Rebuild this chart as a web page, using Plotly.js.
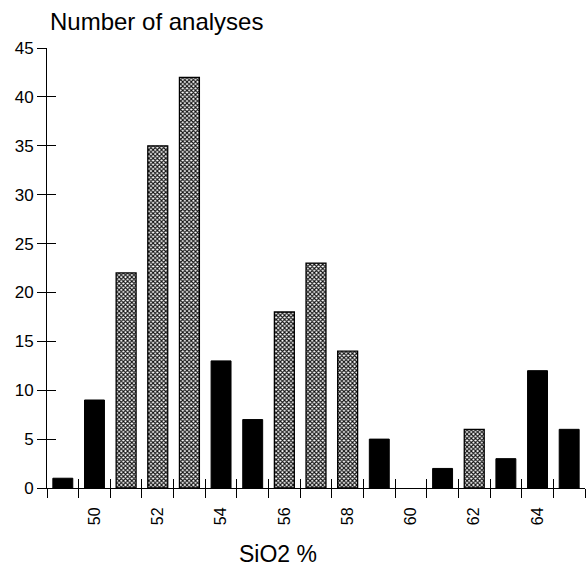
<!DOCTYPE html>
<html>
<head>
<meta charset="utf-8">
<script src="https://cdn.plot.ly/plotly-3.0.1.min.js"></script>
<style>html,body{margin:0;padding:0;background:#fff;}#chart{width:587px;height:568px;}</style>
</head>
<body>
<div id="chart"></div>
<script>
// SiO2 % bins and counts
const sio2 = [49, 50, 51, 52, 53, 54, 55, 56, 57, 58, 59, 60, 61, 62, 63, 64, 65];
const counts = [1, 9, 22, 35, 42, 13, 7, 18, 23, 14, 5, 0, 2, 6, 3, 12, 6];
// group: 'S' = solid black, 'H' = hatched
const groups = ['S','S','H','H','H','S','S','H','H','H','S','S','S','H','S','S','S'];
const xTickVals = [50, 52, 54, 56, 58, 60, 62, 64];
const xTickText = ['50', '52', '54', '56', '58', '60', '62', '64'];
const binEdges = [48.5,49.5,50.5,51.5,52.5,53.5,54.5,55.5,56.5,57.5,58.5,59.5,60.5,61.5,62.5,63.5,64.5,65.5];
const yTickVals = [0, 5, 10, 15, 20, 25, 30, 35, 40, 45];

const solidX = [], solidY = [], hatX = [], hatY = [];
sio2.forEach((x, i) => {
  if (groups[i] === 'S') { if (counts[i] > 0) { solidX.push(x); solidY.push(counts[i]); } }
  else { hatX.push(x); hatY.push(counts[i]); }
});

const fontFam = 'Liberation Sans, Arial, Helvetica, sans-serif';
const traces = [
  {type: 'bar', x: solidX, y: solidY, width: 0.63,
   marker: {color: '#000', line: {color: '#000', width: 1}}, hoverinfo: 'x+y'},
  {type: 'bar', x: hatX, y: hatY, width: 0.63,
   marker: {color: '#fff', line: {color: '#000', width: 1.3},
            pattern: {shape: 'x', size: 3, solidity: 0.6, fgcolor: '#111', bgcolor: '#fff'}},
   hoverinfo: 'x+y'}
];

const layout = {
  width: 587, height: 568,
  margin: {l: 47, r: 2, t: 48, b: 80},
  paper_bgcolor: '#fff', plot_bgcolor: '#fff',
  showlegend: false,
  barmode: 'overlay',
  font: {family: fontFam, color: '#000', size: 15},
  xaxis: {
    range: [48.5, 65.5], tickmode: 'array', tickvals: xTickVals, ticktext: xTickText,
    tickangle: -90, ticks: '', showgrid: false, zeroline: false,
    showline: true, linecolor: '#000', linewidth: 1,
    tickfont: {size: 16, family: fontFam}, ticklabelstandoff: 12
  },
  xaxis2: {
    overlaying: 'x', range: [48.5, 65.5], tickmode: 'array', tickvals: binEdges,
    showticklabels: false, ticks: 'outside', ticklen: 9, tickcolor: '#000', tickwidth: 1,
    showgrid: false, zeroline: false, showline: false, side: 'bottom', anchor: 'y'
  },
  xaxis3: {
    overlaying: 'x', range: [48.5, 65.5], tickmode: 'array', tickvals: binEdges,
    showticklabels: false, ticks: 'inside', ticklen: 9, tickcolor: '#000', tickwidth: 1,
    showgrid: false, zeroline: false, showline: false, side: 'bottom', anchor: 'y'
  },
  yaxis: {
    range: [0, 45], tickmode: 'array', tickvals: yTickVals,
    ticks: 'outside', ticklen: 9, tickcolor: '#000', tickwidth: 1,
    showgrid: false, zeroline: false, showline: true, linecolor: '#000', linewidth: 1,
    tickfont: {size: 17, family: fontFam}
  },
  yaxis2: {
    overlaying: 'y', range: [0, 45], tickmode: 'array', tickvals: yTickVals,
    showticklabels: false, ticks: 'inside', ticklen: 9, tickcolor: '#000', tickwidth: 1,
    showgrid: false, zeroline: false, showline: false, side: 'left', anchor: 'x'
  },
  annotations: [
    {text: 'Number of analyses', xref: 'paper', yref: 'paper', x: 0.004, y: 1.0, yshift: 27,
     xanchor: 'left', yanchor: 'middle', showarrow: false, borderpad: 0, font: {size: 24, family: fontFam}},
    {text: 'SiO2 %', xref: 'paper', yref: 'paper', x: 0.43, y: 0, yshift: -66,
     xanchor: 'center', yanchor: 'middle', showarrow: false, borderpad: 0, font: {size: 23, family: fontFam}}
  ]
};

// empty traces to activate tick-only axes
traces.push({type: 'scatter', x: [], y: [], xaxis: 'x2', yaxis: 'y', hoverinfo: 'skip'});
traces.push({type: 'scatter', x: [], y: [], xaxis: 'x3', yaxis: 'y', hoverinfo: 'skip'});
traces.push({type: 'scatter', x: [], y: [], xaxis: 'x', yaxis: 'y2', hoverinfo: 'skip'});

Plotly.newPlot('chart', traces, layout, {displayModeBar: false, staticPlot: true});
</script>
</body>
</html>
